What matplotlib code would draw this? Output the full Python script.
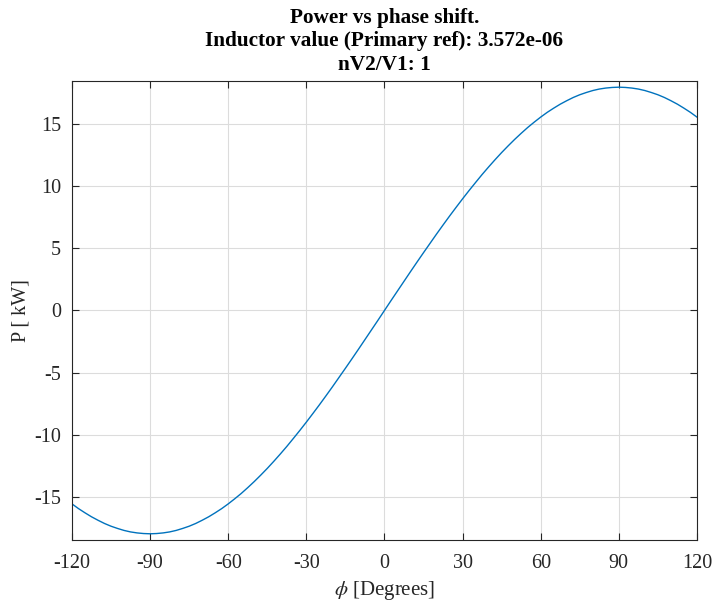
import matplotlib
matplotlib.use("Agg")
import numpy as np
import matplotlib.pyplot as plt

# phase shift in degrees (2.5 deg steps) and power in kW
phase_deg = np.arange(-120, 120.1, 2.5)
power_kw = [-15.59, -15.97, -16.31, -16.63, -16.91, -17.17, -17.39, -17.57, -17.73,
            -17.85, -17.93, -17.98, -18.0, -17.98, -17.93, -17.85, -17.73, -17.57,
            -17.39, -17.17, -16.91, -16.63, -16.31, -15.97, -15.59, -15.18, -14.75,
            -14.28, -13.79, -13.27, -12.73, -12.16, -11.57, -10.96, -10.32, -9.67,
            -9.0, -8.31, -7.61, -6.89, -6.16, -5.41, -4.66, -3.90, -3.13, -2.35,
            -1.57, -0.79,
            0.0, 0.79, 1.57, 2.35, 3.13, 3.90, 4.66, 5.41, 6.16, 6.89, 7.61, 8.31,
            9.0, 9.67, 10.32, 10.96, 11.57, 12.16, 12.73, 13.27, 13.79, 14.28, 14.75,
            15.18, 15.59, 15.97, 16.31, 16.63, 16.91, 17.17, 17.39, 17.57, 17.73,
            17.85, 17.93, 17.98, 18.0, 17.98, 17.93, 17.85, 17.73, 17.57, 17.39,
            17.17, 16.91, 16.63, 16.31, 15.97, 15.59]

x_ticks = [-120, -90, -60, -30, 0, 30, 60, 90, 120]
y_ticks = [-15, -10, -5, 0, 5, 10, 15]

plt.rcParams['font.family'] = ['Liberation Serif', 'DejaVu Serif']
plt.rcParams['mathtext.fontset'] = 'stix'
plt.rcParams['axes.unicode_minus'] = False

fig = plt.figure(figsize=(7.14, 6.03), dpi=100)
ax = fig.add_axes([0.1008, 0.1045, 0.8753, 0.7612])

ax.plot(phase_deg, power_kw, color='#0072BD', linewidth=1.0)

ax.set_xlim(-120, 120)
ax.set_ylim(-18.5, 18.5)
ax.set_xticks(x_ticks)
ax.set_yticks(y_ticks)
ax.grid(True, color='#dcdcdc', linewidth=0.8)
ax.set_axisbelow(True)

axis_col = '#262626'
for s in ax.spines.values():
    s.set_color(axis_col)
    s.set_linewidth(0.8)
ax.tick_params(direction='in', top=True, right=True, length=5, width=0.8,
               color=axis_col, labelsize=14.5, labelcolor=axis_col)
ax.tick_params(axis='x', pad=10)
ax.tick_params(axis='y', pad=8)

ax.set_xlabel(r'$\phi$ [Degrees]', fontsize=15, color=axis_col)
ax.set_ylabel('P [ kW]', fontsize=14.5, color=axis_col)
ax.xaxis.set_label_coords(0.5, -0.085)
ax.yaxis.set_label_coords(-0.066, 0.5)
ax.set_title('Power vs phase shift.\nInductor value (Primary ref): 3.572e-06\nnV2/V1: 1',
             fontsize=15.3, fontweight='bold', color='black', linespacing=1.24, pad=8)

fig.savefig('out.png', dpi=100)
